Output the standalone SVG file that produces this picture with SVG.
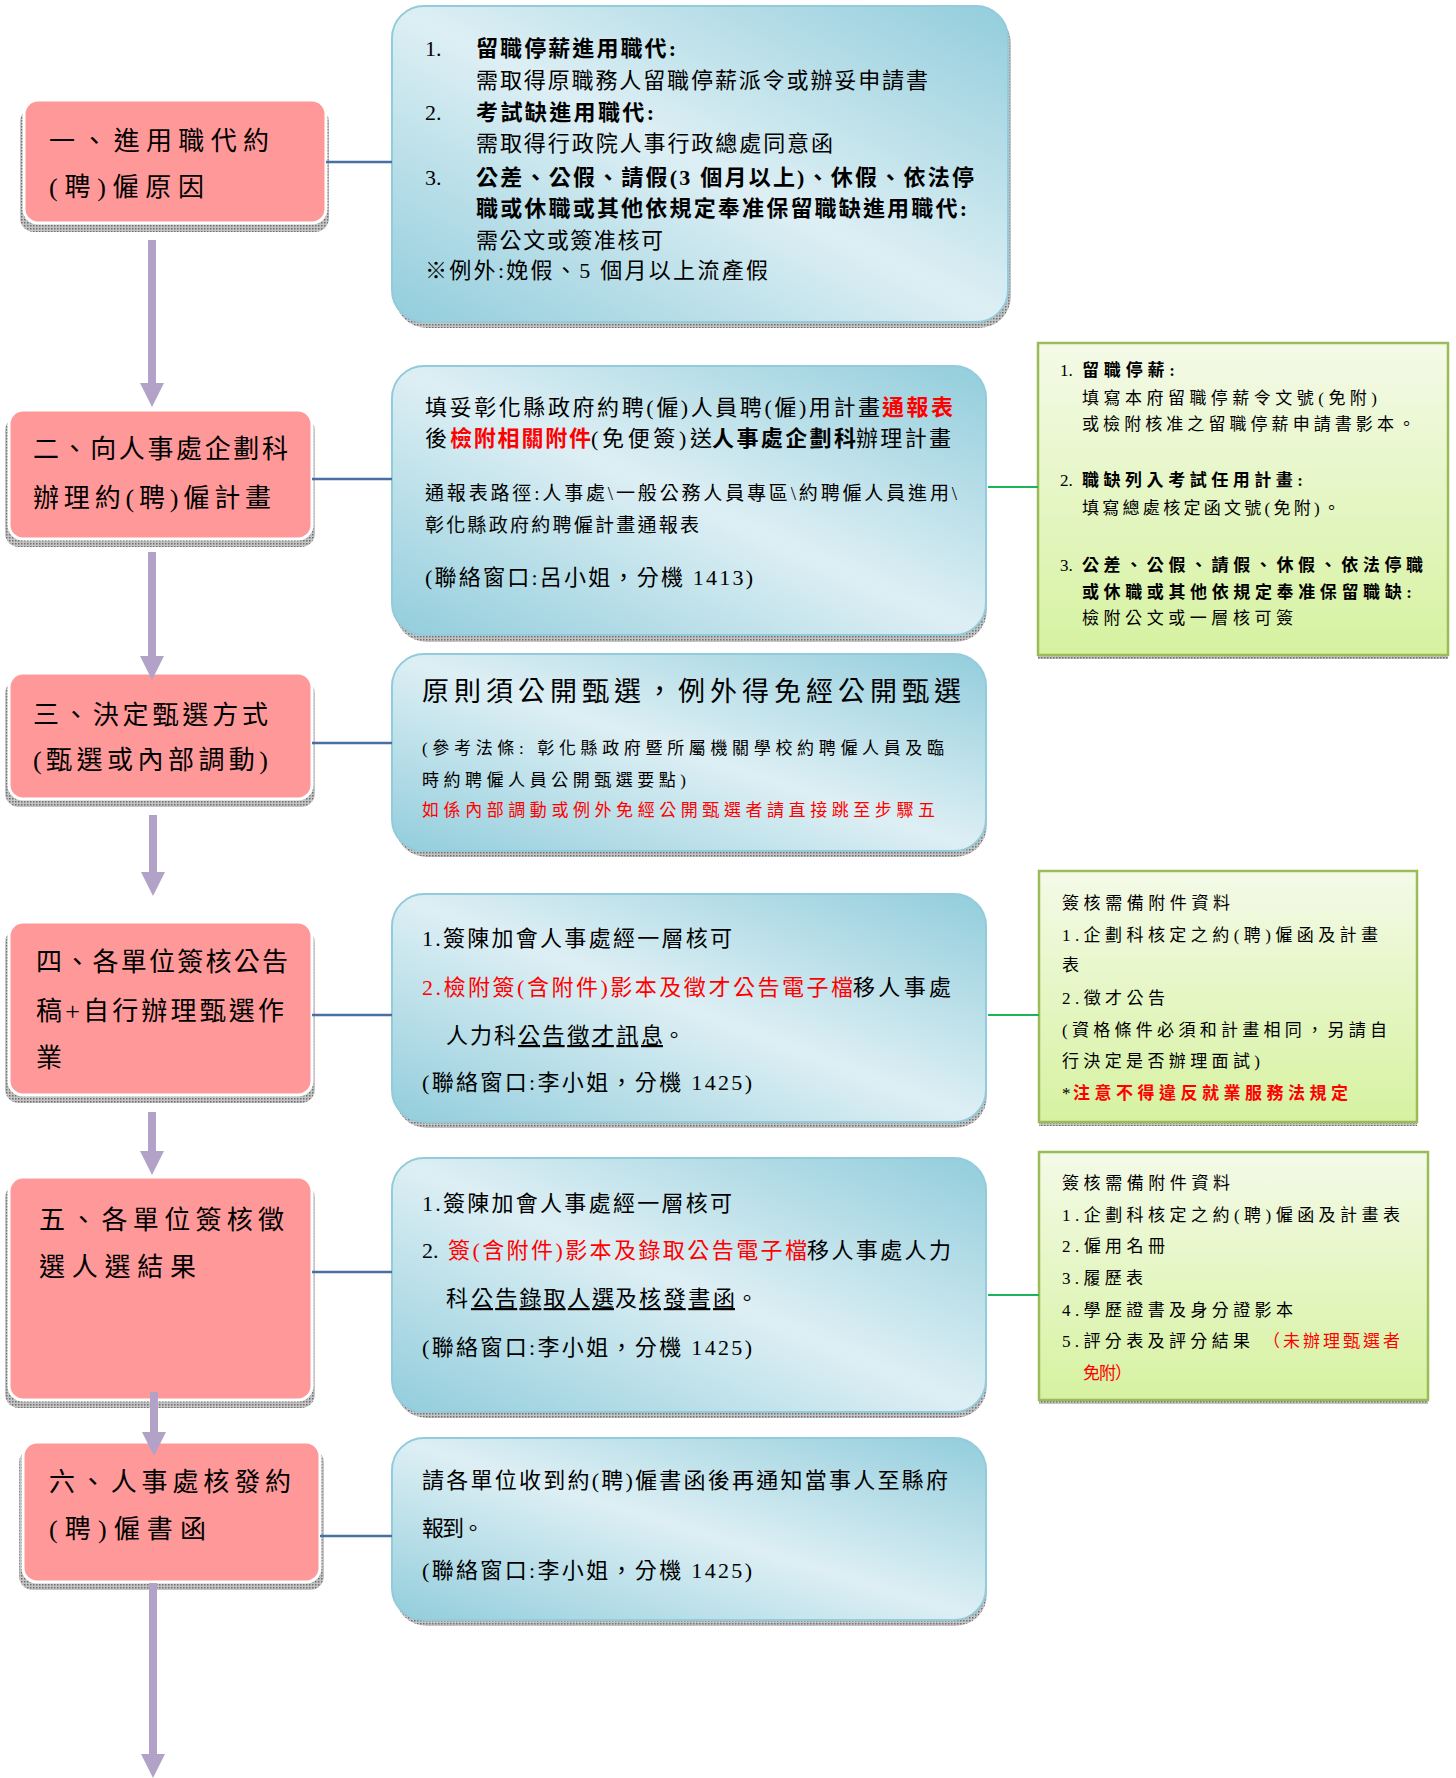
<svg xmlns="http://www.w3.org/2000/svg" width="1456" height="1778" viewBox="0 0 1456 1778">
<style>
.pk{fill:#FF9999;stroke:#fff;stroke-width:3}
.bl{fill:url(#gBlue);stroke:#92CBDB;stroke-width:2}
.gr{fill:url(#gGreen);stroke:#9BBB59;stroke-width:2.5}
.sh{fill:url(#hatch)}
.t{font-family:"Liberation Serif","Noto Sans CJK TC",serif;fill:#000}
.tp{font-size:26px}
.tb{font-size:22px}
.tt{font-size:27px}
.ts{font-size:19px}
.tm{font-size:17px}
.tg{font-size:17px}
.b{font-weight:700}
.r{fill:#FF0000}
.lc{stroke:#4A6FA5;stroke-width:2.5;fill:none}
.gc{stroke:#1DB35A;stroke-width:2;fill:none}
.ar{stroke:#B3A2C7;stroke-width:8;fill:none;marker-end:url(#ah)}
</style>
<defs>
<pattern id="hatch" width="3" height="3" patternUnits="userSpaceOnUse">
<rect width="3" height="3" fill="#c4c4c4"/>
<rect width="1.5" height="1.5" fill="#6e6e6e"/>
</pattern>
<linearGradient id="gBlue" x1="1" y1="0" x2="0" y2="1">
<stop offset="0" stop-color="#92CDDC"/>
<stop offset="0.5" stop-color="#DDEFF4"/>
<stop offset="1" stop-color="#92CDDC"/>
</linearGradient>
<linearGradient id="gGreen" x1="0" y1="0" x2="0" y2="1">
<stop offset="0" stop-color="#F4FAE8"/>
<stop offset="1" stop-color="#D6F2A0"/>
</linearGradient>
<marker id="ah" markerUnits="userSpaceOnUse" markerWidth="24" markerHeight="24" viewBox="0 0 24 24" refX="0" refY="12" orient="auto">
<path d="M0,0 L24,12 L0,24 z" fill="#B3A2C7"/>
</marker>
</defs>
<rect width="1456" height="1778" fill="#fff"/>

<!-- Step 1 -->
<g id="step1">
<rect class="sh" x="20" y="108" width="309" height="124" rx="14"/>
<rect class="pk" x="24" y="100" width="302" height="123" rx="14"/>
<text class="t tp" x="49" y="150" textLength="220">一、進用職代約</text>
<text class="t tp" x="49" y="196" textLength="155">(聘)僱原因</text>
</g>
<g id="info1">
<rect class="sh" x="395" y="12" width="616" height="316" rx="32"/>
<rect class="bl" x="392" y="6" width="616" height="316" rx="32"/>
<text class="t tb" x="425" y="56">1.</text>
<text class="t tb b" x="476" y="56" textLength="200">留職停薪進用職代:</text>
<text class="t tb" x="476" y="88" textLength="452">需取得原職務人留職停薪派令或辦妥申請書</text>
<text class="t tb" x="425" y="120">2.</text>
<text class="t tb b" x="476" y="120" textLength="178">考試缺進用職代:</text>
<text class="t tb" x="476" y="151" textLength="357">需取得行政院人事行政總處同意函</text>
<text class="t tb" x="425" y="185">3.</text>
<text class="t tb b" x="476" y="185" textLength="498">公差、公假、請假(3 個月以上)、休假、依法停</text>
<text class="t tb b" x="476" y="216" textLength="491">職或休職或其他依規定奉准保留職缺進用職代:</text>
<text class="t tb" x="476" y="248" textLength="187">需公文或簽准核可</text>
<text class="t tb" x="425" y="278" textLength="343">※例外:娩假、5 個月以上流產假</text>
</g>

<!-- Step 2 -->
<g id="step2">
<rect class="sh" x="5" y="417" width="310" height="130" rx="14"/>
<rect class="pk" x="9" y="410" width="303" height="129" rx="14"/>
<text class="t tp" x="33" y="458" textLength="255">二、向人事處企劃科</text>
<text class="t tp" x="33" y="507" textLength="238">辦理約(聘)僱計畫</text>
</g>
<g id="info2">
<rect class="sh" x="395" y="372" width="592" height="270" rx="32"/>
<rect class="bl" x="392" y="366" width="594" height="269" rx="32"/>
<text class="t tb" x="425" y="415" textLength="455">填妥彰化縣政府約聘(僱)人員聘(僱)用計畫</text>
<text class="t tb b r" x="882" y="415" textLength="71">通報表</text>
<text class="t tb" x="425" y="446">後</text>
<text class="t tb b r" x="450" y="446" textLength="141">檢附相關附件</text>
<text class="t tb" x="591" y="446" textLength="121">(免便簽)送</text>
<text class="t tb b" x="712" y="446" textLength="144">人事處企劃科</text>
<text class="t tb" x="856" y="446" textLength="95">辦理計畫</text>
<text class="t ts" x="425" y="500" textLength="532">通報表路徑:人事處\一般公務人員專區\約聘僱人員進用\</text>
<text class="t ts" x="425" y="532" textLength="274">彰化縣政府約聘僱計畫通報表</text>
<text class="t tb" x="425" y="585" textLength="328">(聯絡窗口:呂小姐，分機 1413)</text>
</g>
<g id="note2">
<rect class="sh" x="1038" y="347" width="410" height="312"/>
<rect class="gr" x="1038" y="343" width="410" height="312"/>
<text class="t tg" x="1060" y="376">1.</text>
<text class="t tg b" x="1082" y="376" textLength="93">留職停薪:</text>
<text class="t tg" x="1082" y="404" textLength="295">填寫本府留職停薪令文號(免附)</text>
<text class="t tg" x="1082" y="430" textLength="333">或檢附核准之留職停薪申請書影本。</text>
<text class="t tg" x="1060" y="486">2.</text>
<text class="t tg b" x="1082" y="486" textLength="221">職缺列入考試任用計畫:</text>
<text class="t tg" x="1082" y="514" textLength="258">填寫總處核定函文號(免附)。</text>
<text class="t tg" x="1060" y="571">3.</text>
<text class="t tg b" x="1082" y="571" textLength="341">公差、公假、請假、休假、依法停職</text>
<text class="t tg b" x="1082" y="598" textLength="330">或休職或其他依規定奉准保留職缺:</text>
<text class="t tg" x="1082" y="624" textLength="211">檢附公文或一層核可簽</text>
</g>

<!-- Step 3 -->
<g id="step3">
<rect class="sh" x="5" y="680" width="310" height="127" rx="14"/>
<rect class="pk" x="9" y="673" width="303" height="126" rx="14"/>
<text class="t tp" x="33" y="724" textLength="235">三、決定甄選方式</text>
<text class="t tp" x="33" y="769" textLength="235">(甄選或內部調動)</text>
</g>
<g id="info3">
<rect class="sh" x="395" y="660" width="592" height="197" rx="32"/>
<rect class="bl" x="392" y="654" width="594" height="197" rx="32"/>
<text class="t tt" x="422" y="701" textLength="539">原則須公開甄選，例外得免經公開甄選</text>
<text class="t tm" x="422" y="754" textLength="522">(參考法條: 彰化縣政府暨所屬機關學校約聘僱人員及臨</text>
<text class="t tm" x="422" y="786" textLength="264">時約聘僱人員公開甄選要點)</text>
<text class="t tm r" x="422" y="816" textLength="513">如係內部調動或例外免經公開甄選者請直接跳至步驟五</text>
</g>

<!-- Step 4 -->
<g id="step4">
<rect class="sh" x="5" y="929" width="310" height="174" rx="14"/>
<rect class="pk" x="9" y="922" width="303" height="173" rx="14"/>
<text class="t tp" x="36" y="971" textLength="252">四、各單位簽核公告</text>
<text class="t tp" x="36" y="1020" textLength="248">稿+自行辦理甄選作</text>
<text class="t tp" x="36" y="1067">業</text>
</g>
<g id="info4">
<rect class="sh" x="395" y="900" width="592" height="228" rx="32"/>
<rect class="bl" x="392" y="894" width="594" height="228" rx="32"/>
<text class="t tb" x="422" y="946" textLength="310">1.簽陳加會人事處經一層核可</text>
<text class="t tb r" x="422" y="995" textLength="431">2.檢附簽(含附件)影本及徵才公告電子檔</text>
<text class="t tb" x="853" y="995" textLength="98">移人事處</text>
<text class="t tb" x="446" y="1043" textLength="70">人力科</text>
<text class="t tb" x="518" y="1043" textLength="145" text-decoration="underline">公告徵才訊息</text>
<text class="t tb" x="663" y="1043">。</text>
<text class="t tb" x="422" y="1090" textLength="330">(聯絡窗口:李小姐，分機 1425)</text>
</g>
<g id="note4">
<rect class="sh" x="1039" y="875" width="378" height="251"/>
<rect class="gr" x="1039" y="871" width="378" height="251"/>
<text class="t tg" x="1062" y="909" textLength="168">簽核需備附件資料</text>
<text class="t tg" x="1062" y="941" textLength="316">1.企劃科核定之約(聘)僱函及計畫</text>
<text class="t tg" x="1062" y="971">表</text>
<text class="t tg" x="1062" y="1004" textLength="103">2.徵才公告</text>
<text class="t tg" x="1062" y="1036" textLength="325">(資格條件必須和計畫相同，另請自</text>
<text class="t tg" x="1062" y="1067" textLength="198">行決定是否辦理面試)</text>
<text class="t tg" x="1062" y="1099">*</text>
<text class="t tg b r" x="1073" y="1099" textLength="275">注意不得違反就業服務法規定</text>
</g>

<!-- Step 5 -->
<g id="step5">
<rect class="sh" x="5" y="1184" width="310" height="224" rx="14"/>
<rect class="pk" x="9" y="1177" width="303" height="223" rx="14"/>
<text class="t tp" x="39" y="1229" textLength="245">五、各單位簽核徵</text>
<text class="t tp" x="39" y="1276" textLength="157">選人選結果</text>
</g>
<g id="info5">
<rect class="sh" x="395" y="1164" width="592" height="254" rx="32"/>
<rect class="bl" x="392" y="1158" width="594" height="254" rx="32"/>
<text class="t tb" x="422" y="1211" textLength="310">1.簽陳加會人事處經一層核可</text>
<text class="t tb" x="422" y="1258">2.</text>
<text class="t tb r" x="448" y="1258" textLength="359">簽(含附件)影本及錄取公告電子檔</text>
<text class="t tb" x="807" y="1258" textLength="144">移人事處人力</text>
<text class="t tb" x="446" y="1306">科</text>
<text class="t tb" x="471" y="1306" textLength="143" text-decoration="underline">公告錄取人選</text>
<text class="t tb" x="615" y="1306">及</text>
<text class="t tb" x="639" y="1306" textLength="96" text-decoration="underline">核發書函</text>
<text class="t tb" x="736" y="1306">。</text>
<text class="t tb" x="422" y="1355" textLength="330">(聯絡窗口:李小姐，分機 1425)</text>
</g>
<g id="note5">
<rect class="sh" x="1039" y="1156" width="389" height="248"/>
<rect class="gr" x="1039" y="1152" width="389" height="248"/>
<text class="t tg" x="1062" y="1189" textLength="168">簽核需備附件資料</text>
<text class="t tg" x="1062" y="1221" textLength="338">1.企劃科核定之約(聘)僱函及計畫表</text>
<text class="t tg" x="1062" y="1252" textLength="103">2.僱用名冊</text>
<text class="t tg" x="1062" y="1284" textLength="81">3.履歷表</text>
<text class="t tg" x="1062" y="1316" textLength="231">4.學歷證書及身分證影本</text>
<text class="t tg" x="1062" y="1347" textLength="188">5.評分表及評分結果</text>
<text class="t tg r" x="1263" y="1347" textLength="137">（未辦理甄選者</text>
<text class="t tg r" x="1083" y="1379" textLength="49">免附）</text>
</g>

<!-- Step 6 -->
<g id="step6">
<rect class="sh" x="19" y="1449" width="305" height="141" rx="14"/>
<rect class="pk" x="23" y="1442" width="297" height="140" rx="14"/>
<text class="t tp" x="49" y="1491" textLength="242">六、人事處核發約</text>
<text class="t tp" x="49" y="1538" textLength="157">(聘)僱書函</text>
</g>
<g id="info6">
<rect class="sh" x="395" y="1444" width="592" height="182" rx="32"/>
<rect class="bl" x="392" y="1438" width="594" height="182" rx="32"/>
<text class="t tb" x="422" y="1488" textLength="526">請各單位收到約(聘)僱書函後再通知當事人至縣府</text>
<text class="t tb" x="422" y="1536" textLength="62">報到。</text>
<text class="t tb" x="422" y="1578" textLength="330">(聯絡窗口:李小姐，分機 1425)</text>
</g>

<g id="connectors">
<line class="lc" x1="326" y1="162" x2="392" y2="162"/>
<line class="lc" x1="312" y1="479" x2="392" y2="479"/>
<line class="lc" x1="312" y1="743" x2="392" y2="743"/>
<line class="lc" x1="312" y1="1015" x2="392" y2="1015"/>
<line class="lc" x1="312" y1="1272" x2="392" y2="1272"/>
<line class="lc" x1="320" y1="1536" x2="392" y2="1536"/>
<line class="gc" x1="988" y1="487" x2="1038" y2="487"/>
<line class="gc" x1="988" y1="1015" x2="1039" y2="1015"/>
<line class="gc" x1="988" y1="1295" x2="1039" y2="1295"/>
<line class="ar" x1="152" y1="240" x2="152" y2="383"/>
<line class="ar" x1="152" y1="552" x2="152" y2="656"/>
<line class="ar" x1="153" y1="815" x2="153" y2="872"/>
<line class="ar" x1="152" y1="1112" x2="152" y2="1151"/>
<line class="ar" x1="154" y1="1392" x2="154" y2="1432"/>
<line class="ar" x1="153" y1="1583" x2="153" y2="1754"/>
</g>
</svg>
